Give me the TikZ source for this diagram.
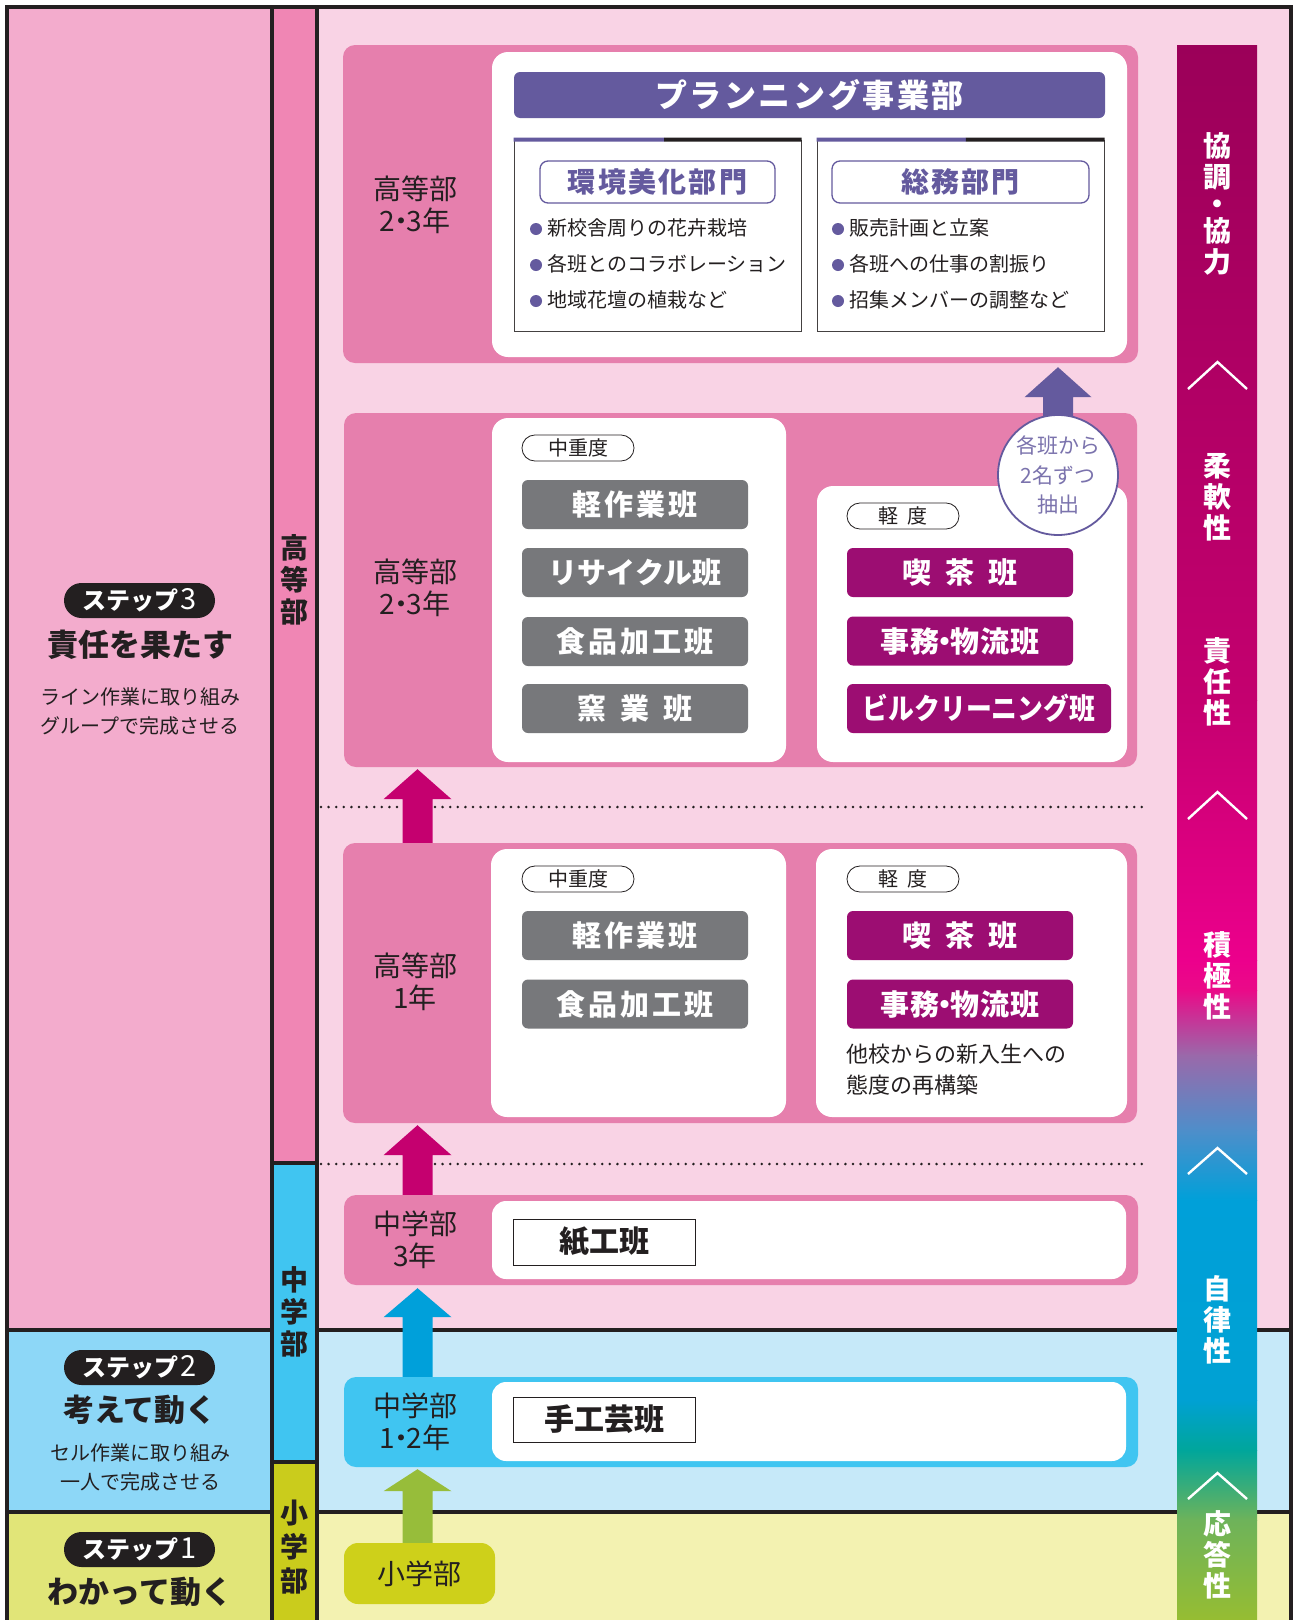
\documentclass[tikz,border=0pt]{standalone}
\usepackage{fontspec}
\setmainfont{Noto Sans CJK JP}
\usepackage{graphicx}
\usetikzlibrary{calc}
\definecolor{lc}{HTML}{231F20}
\definecolor{bgpink}{HTML}{F9D3E5}
\definecolor{steppink}{HTML}{F3ACCD}
\definecolor{colpink}{HTML}{F086B4}
\definecolor{boxpink}{HTML}{E67FAD}
\definecolor{bgblue}{HTML}{C6E9F9}
\definecolor{stepblue}{HTML}{8DD7F7}
\definecolor{colblue}{HTML}{40C5F1}
\definecolor{bgyel}{HTML}{F3F2B1}
\definecolor{stepyel}{HTML}{E1E578}
\definecolor{colyel}{HTML}{CACC1C}
\definecolor{boxyel}{HTML}{CED01A}
\definecolor{btngray}{HTML}{77787B}
\definecolor{btnpurp}{HTML}{9C0D72}
\definecolor{plan}{HTML}{645A9E}
\definecolor{arrmag}{HTML}{C5006F}
\definecolor{arrblue}{HTML}{00A0DA}
\definecolor{arrgreen}{HTML}{97BD3A}
\definecolor{ba}{HTML}{9B0059}
\definecolor{bb}{HTML}{C4006F}
\definecolor{bc}{HTML}{EC008C}
\definecolor{bd}{HTML}{EA0A88}
\definecolor{be}{HTML}{9A69AA}
\definecolor{bf}{HTML}{4E8ECA}
\definecolor{bg}{HTML}{00A0D9}
\definecolor{bh}{HTML}{00A1D3}
\definecolor{bi}{HTML}{00A69B}
\definecolor{bj}{HTML}{6EB35A}
\definecolor{bk}{HTML}{96BD32}
\newcommand\nd{\kern-0.3em・\kern-0.3em}
\newcommand\stepno[1]{\hspace{2pt}{\fontsize{29}{30}\selectfont\mdseries #1}}
\newcommand\blockup[5]{%
  \fill[#1] ($(#3)+(-15,0)$) -- ($(#2)+(-15,#5)$) -- ($(#2)+(-#4,#5)$) -- (#2)
    -- ($(#2)+(#4,#5)$) -- ($(#2)+(15,#5)$) -- ($(#3)+(15,0)$) -- cycle;}
\begin{document}
\begin{tikzpicture}[x=1pt,y=-1pt,
  frame/.style={draw=lc, line width=3.6pt},
  dotline/.style={draw=lc, line width=2.8pt, line cap=round, dash pattern=on 0pt off 7.6pt},
  pinkbox/.style={fill=boxpink, rounded corners=12pt, inner sep=0pt},
  whitebox/.style={fill=white, rounded corners=16pt, inner sep=0pt},
  lab/.style={text=lc, align=center, font=\fontsize{28}{32}\selectfont},
  graybtn/.style={fill=btngray, rounded corners=6pt, minimum width=226pt, minimum height=49pt, inner sep=0pt, text=white, font=\bfseries\fontsize{29}{32}\selectfont},
  purpbtn/.style={graybtn, fill=btnpurp},
  levpill/.style={draw=lc, line width=0.8pt, fill=white, rounded corners=12.9pt, minimum width=112pt, minimum height=26pt, inner sep=0pt, font=\fontsize{20}{22}\selectfont, text=lc},
  deptpill/.style={draw=plan, line width=1.3pt, fill=white, rounded corners=8pt, minimum height=42pt, inner sep=0pt, text=plan, font=\bfseries\fontsize{28}{30}\selectfont},
  subbox/.style={draw=lc!85, line width=1pt, fill=white, minimum width=287pt, minimum height=191pt, inner sep=0pt},
  bul/.style={anchor=west, inner sep=0pt, text=lc, font=\fontsize{20}{22}\selectfont},
  groupbox/.style={draw=lc, line width=1pt, fill=white, minimum width=182pt, minimum height=46pt, inner sep=0pt, text=lc, font=\bfseries\fontsize{30}{32}\selectfont},
  steppill/.style={fill=lc, rounded corners=17.5pt, minimum width=151pt, minimum height=35pt, inner sep=0pt, text=white, font=\bfseries\fontsize{24}{26}\selectfont},
  steptitle/.style={text=lc, font=\bfseries\fontsize{31}{34}\selectfont, inner sep=0pt},
  stepdesc/.style={text=lc, align=center, font=\fontsize{20}{29}\selectfont, inner sep=0pt},
  coltext/.style={text=lc, align=center, font=\bfseries\fontsize{28}{32}\selectfont, inner sep=0pt},
  bartext/.style={text=white, align=center, font=\bfseries\fontsize{28}{31}\selectfont, inner sep=0pt},
  chev/.style={draw=white, line width=2.4pt},
  ]
\useasboundingbox (0,0) rectangle (1294,1620);
% backgrounds
\fill[white] (0,0) rectangle (1294,1620);
\fill[steppink] (7,7) rectangle (272,1330);
\fill[stepblue] (7,1330) rectangle (272,1512);
\fill[stepyel] (7,1512) rectangle (272,1620);
\fill[colpink] (272,7) rectangle (317,1163);
\fill[colblue] (272,1163) rectangle (317,1462);
\fill[colyel] (272,1462) rectangle (317,1620);
\fill[bgpink] (317,7) rectangle (1291,1330);
\fill[bgblue] (317,1330) rectangle (1291,1512);
\fill[bgyel] (317,1512) rectangle (1291,1620);
% frame lines
\draw[frame] (7,1630) -- (7,7) -- (1291,7) -- (1291,1630);
\draw[frame] (272,7) -- (272,1630);
\draw[frame] (317,7) -- (317,1630);
\draw[frame] (7,1330) -- (272,1330);
\draw[frame] (317,1330) -- (1291,1330);
\draw[frame] (7,1512) -- (272,1512);
\draw[frame] (317,1512) -- (1291,1512);
\draw[frame] (272,1163) -- (317,1163);
\draw[frame] (272,1462) -- (317,1462);
% dotted separators
\draw[dotline] (321,807) -- (1147,807);
\draw[dotline] (321,1164) -- (1147,1164);

% left column
\node[steppill] (s3) at (139.5,600.5) {ステップ\stepno{3}};
\node[steptitle] (s3t) at (140,645) {責任を果たす};
\node[stepdesc] (s3d) at (140,711) {ライン作業に取り組み\\グループで完成させる};
\node[steppill] (s2) at (139.5,1367.5) {ステップ\stepno{2}};
\node[steptitle] (s2t) at (140,1410) {考えて動く};
\node[stepdesc] (s2d) at (140,1467.5) {セル作業に取り組み\\一人で完成させる};
\node[steppill] (s1) at (139.5,1549.5) {ステップ\stepno{1}};
\node[steptitle] (s1t) at (140,1592) {わかって動く};

% column 2
\node[coltext] (kk) at (294.5,580) {高\\等\\部};
\node[coltext] (kc) at (294.5,1312) {中\\学\\部};
\node[coltext, font=\bfseries\fontsize{28}{34}\selectfont] (ks) at (294.5,1547) {小\\学\\部};

% Box A
\node[pinkbox, minimum width=795pt, minimum height=318pt] (boxA) at (740.5,204) {};
\node[lab] (labA) at (415,205) {高等部\\2\nd 3年};
\node[whitebox, minimum width=635pt, minimum height=305pt] (wA) at (809.5,204.5) {};
\node[fill=plan, rounded corners=6pt, minimum width=591pt, minimum height=46pt, inner sep=0pt, text=white, font=\bfseries\fontsize{32}{34}\selectfont] (ph) at (809.5,95) {\addfontfeature{LetterSpace=8}プランニング事業部};
\node[subbox] (subL) at (657.5,235.5) {};
\node[subbox] (subR) at (960.5,235.5) {};
\draw[plan, line width=4pt] (subL.north west) -- ($(subL.north west)!0.523!(subL.north east)$) coordinate (mL);
\draw[lc, line width=4pt] (mL) -- (subL.north east);
\draw[plan, line width=4pt] (subR.north west) -- ($(subR.north west)!0.519!(subR.north east)$) coordinate (mR);
\draw[lc, line width=4pt] (mR) -- (subR.north east);
\node[deptpill, minimum width=235pt] (dL) at (657.5,182) {\addfontfeature{LetterSpace=8}環境美化部門};
\node[deptpill, minimum width=257pt] (dR) at (960.5,182) {\addfontfeature{LetterSpace=8}総務部門};
\fill[plan] (536,229) circle (6);
\fill[plan] (536,265) circle (6);
\fill[plan] (536,301) circle (6);
\node[bul] (bl1) at (547,228) {新校舎周りの花卉栽培};
\node[bul] (bl2) at (547,264) {各班とのコラボレーション};
\node[bul] (bl3) at (547,300) {地域花壇の植栽など};
\fill[plan] (838,229) circle (6);
\fill[plan] (838,265) circle (6);
\fill[plan] (838,301) circle (6);
\node[bul] (br1) at (849,228) {販売計画と立案};
\node[bul] (br2) at (849,264) {各班への仕事の割振り};
\node[bul] (br3) at (849,300) {招集メンバーの調整など};

% Box B
\node[pinkbox, minimum width=793pt, minimum height=354pt] (boxB) at (740.5,590) {};
\node[lab] (labB) at (415,588) {高等部\\2\nd 3年};
\node[whitebox, minimum width=294pt, minimum height=344pt] (wBL) at (639,590) {};
\node[whitebox, minimum width=310pt, minimum height=276pt] (wBR) at (972,624) {};
\node[levpill] (pB1) at (578,448) {中重度};
\node[graybtn] (g1) at (635,504.5) {\addfontfeature{LetterSpace=10}軽作業班};
\node[graybtn] (g2) at (635,572.5) {リサイクル班};
\node[graybtn] (g3) at (635,641.5) {\addfontfeature{LetterSpace=10}食品加工班};
\node[graybtn] (g4) at (635,708.5) {窯\hspace{14pt}業\hspace{14pt}班};
\node[levpill] (pB2) at (903,516) {軽\hspace{9pt}度};
\node[purpbtn] (q1) at (960,572.5) {喫\hspace{14pt}茶\hspace{14pt}班};
\node[purpbtn] (q2) at (960,641) {\addfontfeature{LetterSpace=3}事務\nd 物流班};
\node[purpbtn, minimum width=264pt] (q3) at (979,708.5) {\scalebox{0.89}[1]{ビルクリーニング班}};

% Box C
\node[pinkbox, minimum width=794pt, minimum height=280pt] (boxC) at (740,983) {};
\node[lab] (labC) at (415,982) {高等部\\1年};
\node[whitebox, minimum width=295pt, minimum height=268pt] (wCL) at (638.5,983) {};
\node[whitebox, minimum width=311pt, minimum height=268pt] (wCR) at (971.5,983) {};
\node[levpill] (pC1) at (578,879) {中重度};
\node[graybtn] (g5) at (635,935.5) {\addfontfeature{LetterSpace=10}軽作業班};
\node[graybtn] (g6) at (635,1004) {\addfontfeature{LetterSpace=10}食品加工班};
\node[levpill] (pC2) at (903,879) {軽\hspace{9pt}度};
\node[purpbtn] (q4) at (960,935.5) {喫\hspace{14pt}茶\hspace{14pt}班};
\node[purpbtn] (q5) at (960,1004) {\addfontfeature{LetterSpace=3}事務\nd 物流班};
\node[anchor=west, align=left, inner sep=0pt, text=lc, font=\fontsize{22}{31}\selectfont] (cnote) at (846,1070) {他校からの新入生への\\態度の再構築};

% Box D
\node[pinkbox, minimum width=794pt, minimum height=90pt] (boxD) at (741,1240) {};
\node[lab] (labD) at (415,1240) {中学部\\3年};
\node[whitebox, rounded corners=14pt, minimum width=634pt, minimum height=78pt] (wD) at (809,1240) {};
\node[groupbox] (kami) at (604,1242) {紙工班};

% Box E
\node[pinkbox, fill=colblue, minimum width=794pt, minimum height=90pt] (boxE) at (741,1422) {};
\node[lab] (labE) at (415,1422) {中学部\\1\nd 2年};
\node[whitebox, rounded corners=14pt, minimum width=634pt, minimum height=79pt] (wE) at (809,1421.5) {};
\node[groupbox, minimum height=45pt] (shuk) at (604,1419.5) {手工芸班};

% Box F
\node[fill=boxyel, rounded corners=14pt, minimum width=151pt, minimum height=61pt, inner sep=0pt, text=lc, font=\fontsize{28}{30}\selectfont] (boxF) at (419.5,1573.5) {小学部};

% block arrows
\coordinate (ax) at (417.5,0);
\coordinate (px) at (1058,0);
\coordinate (t1) at ($(boxB.south -| ax)+(0,2)$);
\coordinate (b1) at (boxC.north -| ax);
\coordinate (t2) at ($(boxC.south -| ax)+(0,2)$);
\coordinate (b2) at (boxD.north -| ax);
\coordinate (t3) at ($(boxD.south -| ax)+(0,3)$);
\coordinate (b3) at (boxE.north -| ax);
\coordinate (t4) at ($(boxE.south -| ax)+(0,2)$);
\coordinate (b4) at (boxF.north -| ax);
\blockup{arrmag}{t1}{b1}{34}{30}
\blockup{arrmag}{t2}{b2}{34}{30}
\blockup{arrblue}{t3}{b3}{34}{29}
\blockup{arrgreen}{t4}{b4}{34}{22}

% pick-up circle and arrow
\coordinate (pc) at (1058,475);
\coordinate (t5) at ($(boxA.south -| px)+(0,4)$);
\coordinate (b5) at ($(pc)+(0,-57)$);
\blockup{plan}{t5}{b5}{33.5}{30}
\node[circle, draw=plan, line width=1.8pt, fill=white, minimum size=120pt, inner sep=0pt, text=plan!85!white, align=center, font=\fontsize{21}{29.5}\selectfont] (pick) at (pc) {各班から\\2名ずつ\\抽出};

% right bar
\shade[top color=ba, bottom color=bb] (1177,45) rectangle (1257,700.5);
\shade[top color=bb, bottom color=bc] (1177,700) rectangle (1257,960.5);
\shade[top color=bc, bottom color=bd] (1177,960) rectangle (1257,990.5);
\shade[top color=bd, bottom color=be] (1177,990) rectangle (1257,1055.5);
\shade[top color=be, bottom color=bf] (1177,1055) rectangle (1257,1130.5);
\shade[top color=bf, bottom color=bg] (1177,1130) rectangle (1257,1200.5);
\shade[top color=bg, bottom color=bh] (1177,1200) rectangle (1257,1400.5);
\shade[top color=bh, bottom color=bi] (1177,1400) rectangle (1257,1450.5);
\shade[top color=bi, bottom color=bj] (1177,1450) rectangle (1257,1520.5);
\shade[top color=bj, bottom color=bk] (1177,1520) rectangle (1257,1620);
\draw[chev] (1188,389) -- (1217.5,362) -- (1247,389);
\draw[chev] (1188,819) -- (1217.5,792) -- (1247,819);
\draw[chev] (1188,1174) -- (1217.5,1148) -- (1247,1174);
\draw[chev] (1188,1499) -- (1217.5,1473) -- (1247,1499);
\node[bartext] (r1) at (1217,203.5) {協\\調\\[-4pt]・\\[-4pt]協\\力};
\node[bartext] (r2) at (1217,497) {柔\\軟\\性};
\node[bartext] (r3) at (1217,681.5) {責\\任\\性};
\node[bartext] (r4) at (1217,976) {積\\極\\性};
\node[bartext] (r5) at (1217,1320) {自\\律\\性};
\node[bartext] (r6) at (1217,1555) {応\\答\\性};
\end{tikzpicture}
\end{document}
